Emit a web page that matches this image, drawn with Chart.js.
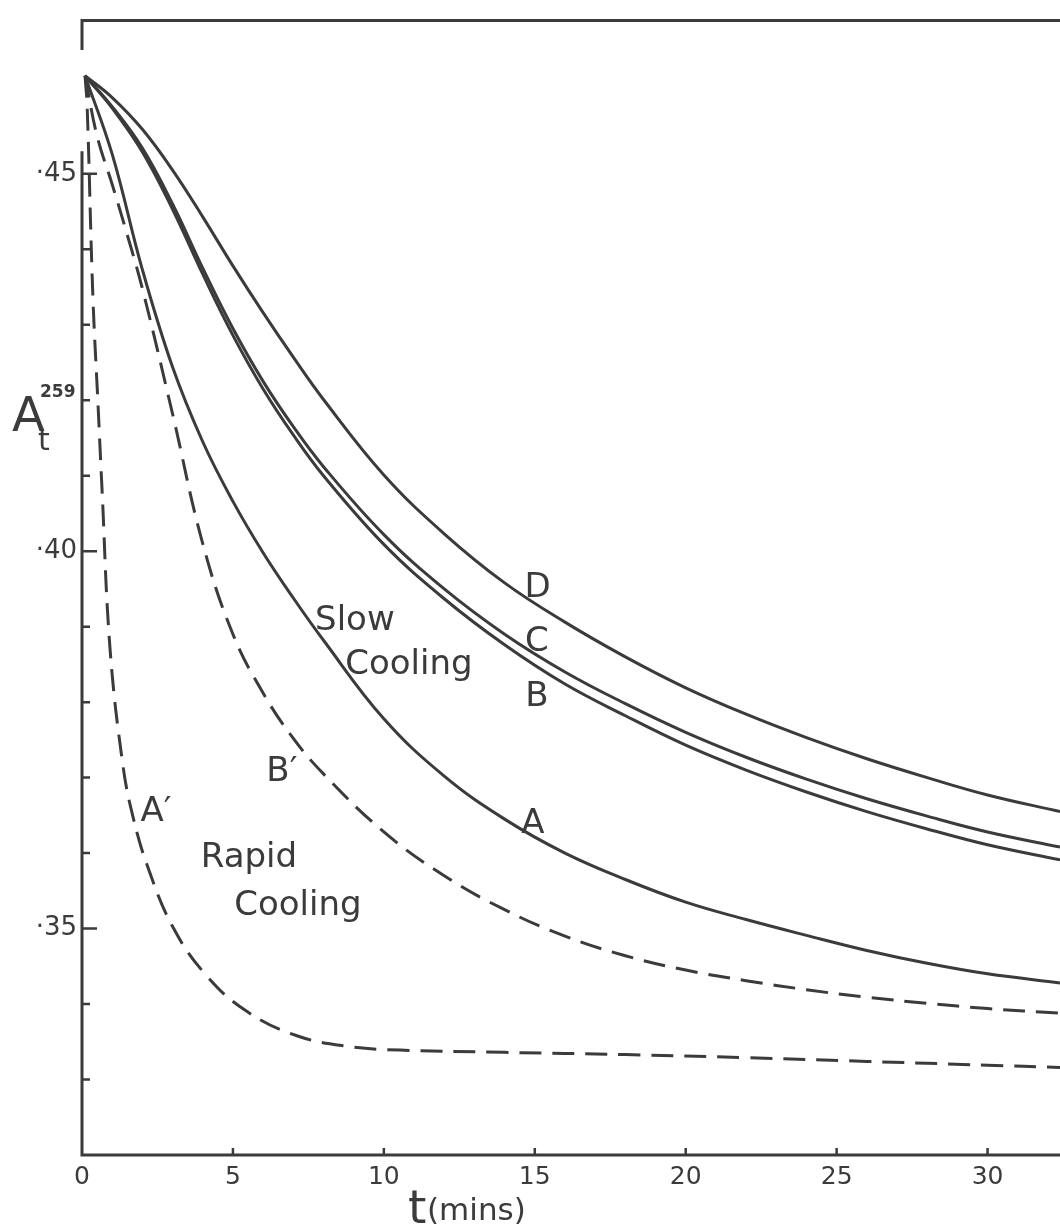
<!DOCTYPE html>
<html>
<head>
<meta charset="utf-8">
<script src="https://cdn.jsdelivr.net/npm/chart.js"></script>
<style>
  html, body { margin: 0; padding: 0; background: #fff; }
  #wrap { width: 1060px; height: 1229px; position: relative; }
</style>
</head>
<body>
<div id="wrap"><canvas id="myChart"></canvas></div>
<script>
// time (mins) for the slow cooling curves
const tSolid = [0.1, 1, 2, 3, 4, 5, 6, 7, 8, 10, 12, 14, 16, 18, 20, 22, 24, 26, 28, 30, 32.4];
const curveD = [0.4630, 0.4601, 0.4559, 0.4505, 0.4443, 0.4378, 0.4316, 0.4257, 0.4201, 0.4101, 0.4023, 0.3958, 0.3906, 0.3860, 0.3819, 0.3784, 0.3753, 0.3725, 0.3700, 0.3677, 0.3655];
const curveC = [0.4630, 0.4589, 0.4534, 0.4460, 0.4375, 0.4295, 0.4225, 0.4165, 0.4112, 0.4022, 0.3950, 0.3890, 0.3840, 0.3798, 0.3760, 0.3727, 0.3698, 0.3672, 0.3649, 0.3628, 0.3608];
const curveB = [0.4630, 0.4587, 0.4529, 0.4453, 0.4367, 0.4286, 0.4215, 0.4154, 0.4100, 0.4009, 0.3937, 0.3876, 0.3824, 0.3782, 0.3743, 0.3710, 0.3681, 0.3655, 0.3632, 0.3611, 0.3591];
const curveA = [0.4630, 0.4526, 0.4373, 0.4244, 0.4145, 0.4066, 0.3998, 0.3938, 0.3882, 0.3778, 0.3702, 0.3645, 0.3600, 0.3565, 0.3535, 0.3512, 0.3491, 0.3471, 0.3454, 0.3440, 0.3428];

// rapid cooling curves (dashed)
const tBp = [0.1, 0.5, 1, 1.5, 2, 3, 4, 5, 6, 7, 8, 10, 12, 14, 16, 18, 20, 22, 24, 26, 28, 30, 32.4];
const curveBp = [0.4630, 0.4550, 0.4486, 0.4419, 0.4348, 0.4182, 0.4010, 0.3890, 0.3812, 0.3752, 0.3705, 0.3628, 0.3570, 0.3525, 0.3490, 0.3464, 0.3445, 0.3431, 0.3419, 0.3409, 0.3401, 0.3394, 0.3388];
const tAp = [0.1, 0.17, 0.36, 0.53, 0.66, 0.93, 1.36, 1.69, 2.15, 3.01, 4.14, 5.47, 7.12, 8.78, 10.53, 14, 18, 22, 26, 30, 32.4];
const curveAp = [0.4630, 0.4590, 0.4338, 0.4195, 0.4085, 0.3870, 0.3715, 0.3648, 0.3585, 0.3502, 0.3437, 0.3390, 0.3358, 0.3344, 0.3339, 0.3336, 0.3333, 0.3329, 0.3324, 0.3319, 0.3316];

// axes
const xTickValues = [0, 5, 10, 15, 20, 25, 30];
const xTickLabels = ['0', '5', '10', '15', '20', '25', '30'];
const yTickValues = [0.33, 0.34, 0.35, 0.36, 0.37, 0.38, 0.39, 0.40, 0.41, 0.42, 0.43, 0.44, 0.45];
const yMajorValues = [0.35, 0.40, 0.45];
const yMajorLabels = ['·35', '·40', '·45'];

// text written on the plot, anchored in data units (centre x, baseline y)
const plotLabels = [
    { text: 'D', t: 15.09, v: 0.3939 },
    { text: 'C', t: 15.07, v: 0.3868 },
    { text: 'B', t: 15.07, v: 0.3795 },
    { text: 'A', t: 14.94, v: 0.3626 },
    { text: 'B′', t: 6.62, v: 0.3696 },
    { text: 'A′', t: 2.45, v: 0.3642 },
    { text: 'Slow', t: 9.04, v: 0.3895 },
    { text: 'Cooling', t: 10.83, v: 0.3837 },
    { text: 'Rapid', t: 5.53, v: 0.3581 },
    { text: 'Cooling', t: 7.15, v: 0.3518 }
];

const ink = '#3b3b3b';
const fontFamily = "'DejaVu Sans', sans-serif";

function points(ts, vs) {
    return ts.map((t, i) => ({ x: t, y: vs[i] }));
}

function curve(label, ts, vs, dash) {
    return {
        label: label,
        data: points(ts, vs),
        borderColor: ink,
        borderWidth: 3,
        borderDash: dash,
        pointRadius: 0,
        tension: 0.4,
        fill: false
    };
}

const framePlugin = {
    id: 'frame',
    afterDraw(chart) {
        const ctx = chart.ctx;
        const xs = chart.scales.x;
        const ys = chart.scales.y;
        const area = chart.chartArea;
        ctx.save();
        ctx.strokeStyle = ink;
        ctx.fillStyle = ink;
        ctx.lineWidth = 3;

        // frame: top edge, bottom axis, left axis (broken near the top)
        ctx.beginPath();
        ctx.moveTo(area.left - 1.5, area.top);
        ctx.lineTo(area.right, area.top);
        ctx.moveTo(area.left - 1.5, area.bottom);
        ctx.lineTo(area.right, area.bottom);
        ctx.moveTo(area.left, area.top);
        ctx.lineTo(area.left, ys.getPixelForValue(0.4664));
        ctx.moveTo(area.left, ys.getPixelForValue(0.4530));
        ctx.lineTo(area.left, area.bottom);
        ctx.stroke();

        // ticks point into the plot
        ctx.lineWidth = 2.5;
        ctx.beginPath();
        ys.ticks.forEach(tk => {
            const py = ys.getPixelForValue(tk.value);
            const major = yMajorValues.some(m => Math.abs(m - tk.value) < 1e-6);
            ctx.moveTo(area.left, py);
            ctx.lineTo(area.left + (major ? 15 : 8), py);
        });
        xs.ticks.forEach(tk => {
            if (tk.value === 0) return;
            const px = xs.getPixelForValue(tk.value);
            ctx.moveTo(px, area.bottom);
            ctx.lineTo(px, area.bottom - 7);
        });
        ctx.stroke();

        // labels on the curves
        ctx.textAlign = 'center';
        ctx.textBaseline = 'alphabetic';
        ctx.font = '34px ' + fontFamily;
        plotLabels.forEach(l => {
            ctx.fillText(l.text, xs.getPixelForValue(l.t), ys.getPixelForValue(l.v));
        });

        // axis titles
        ctx.textAlign = 'left';
        ctx.font = '48px ' + fontFamily;
        ctx.fillText('A', 12, 431);
        ctx.font = '30px ' + fontFamily;
        ctx.fillText('t', 38, 450);
        ctx.font = 'bold 17px ' + fontFamily;
        ctx.fillText('259', 40, 397);

        ctx.font = '47px ' + fontFamily;
        ctx.fillText('t', 408, 1223);
        ctx.font = '31px ' + fontFamily;
        ctx.fillText('(mins)', 427, 1220);
        ctx.restore();
    }
};

new Chart('myChart', {
    type: 'line',
    data: {
        datasets: [
            curve('D', tSolid, curveD, []),
            curve('C', tSolid, curveC, []),
            curve('B', tSolid, curveB, []),
            curve('A', tSolid, curveA, []),
            curve('B′', tBp, curveBp, [22, 11]),
            curve('A′', tAp, curveAp, [22, 11])
        ]
    },
    options: {
        responsive: true,
        maintainAspectRatio: false,
        animation: false,
        layout: { padding: { top: 13, right: 0, left: 0, bottom: 0 } },
        plugins: {
            legend: { display: false },
            tooltip: { enabled: false }
        },
        scales: {
            x: {
                type: 'linear',
                min: 0,
                max: 32.4,
                afterBuildTicks: s => { s.ticks = xTickValues.map(v => ({ value: v })); },
                afterFit: s => { s.height = 74; },
                grid: { display: false, drawTicks: false },
                border: { display: false },
                ticks: {
                    callback: (v, i) => xTickLabels[i],
                    font: { family: fontFamily, size: 25 },
                    color: ink,
                    padding: 7,
                    maxRotation: 0,
                    autoSkip: false
                }
            },
            y: {
                type: 'linear',
                min: 0.32,
                max: 0.4703,
                afterBuildTicks: s => { s.ticks = yTickValues.map(v => ({ value: v })); },
                afterFit: s => { s.width = 82; },
                grid: { display: false, drawTicks: false },
                border: { display: false },
                ticks: {
                    callback: v => {
                        const k = yMajorValues.findIndex(m => Math.abs(m - v) < 1e-6);
                        return k < 0 ? '' : yMajorLabels[k];
                    },
                    font: { family: fontFamily, size: 26 },
                    color: ink,
                    padding: 5,
                    autoSkip: false
                }
            }
        }
    },
    plugins: [framePlugin]
});
</script>
</body>
</html>
